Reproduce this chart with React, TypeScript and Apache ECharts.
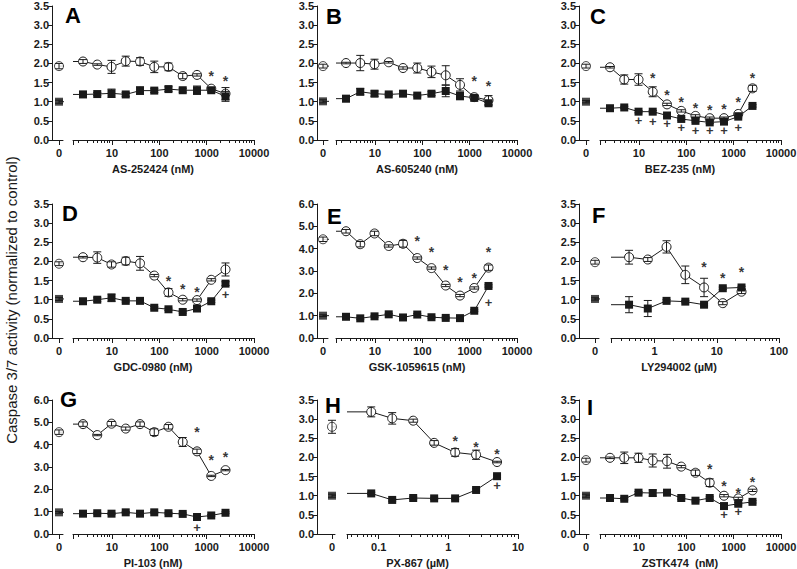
import React, { useEffect, useRef } from "react";
import * as echarts from "echarts";

// ---------- concentrations & axis ticks ----------
const CONC_NM = [2.44, 4.88, 9.77, 19.5, 39.1, 78.1, 156, 312, 625, 1250, 2500];
const CONC_LY = [0.39, 0.78, 1.56, 3.125, 6.25, 12.5, 25];
const CONC_PX = [0.078, 0.156, 0.3125, 0.625, 1.25, 2.5, 5];
const TICKS_NM = [10, 100, 1000, 10000];
const TICKS_LY = [1, 10, 100];
const TICKS_PX = [0.1, 1, 10];
const RANGE_NM = [1.5, 10000];
const RANGE_LY = [0.2, 100];
const RANGE_PX = [0.035, 10];

// ctrl = [open mean, open err, filled mean, filled err] at concentration 0
// ---------- A ----------
const A_NAME = "AS-252424 (nM)";
const A_CTRL = [1.93, 0.07, 1.0, 0.04];
const A_OPEN = [2.05, 1.97, 1.91, 2.06, 2.05, 1.91, 1.91, 1.67, 1.7, 1.34, 1.21];
const A_OPEN_ERR = [0.05, 0.02, 0.17, 0.13, 0.1, 0.15, 0.1, 0.07, 0.03, 0.03, 0.16];
const A_FILLED = [1.19, 1.2, 1.22, 1.19, 1.29, 1.29, 1.33, 1.3, 1.3, 1.3, 1.14];
const A_FILLED_ERR = [0.08, 0.04, 0.11, 0.05, 0.1, 0.05, 0.06, 0.05, 0.11, 0.05, 0.13];
const A_STAR = [[1250, 1.76], [2500, 1.61]];
const A_PLUS: number[][] = [];

// ---------- B ----------
const B_NAME = "AS-605240 (nM)";
const B_CTRL = [1.93, 0.05, 1.01, 0.04];
const B_OPEN = [2.01, 2.01, 1.98, 2.03, 1.88, 1.88, 1.78, 1.69, 1.44, 1.12, 1.04];
const B_OPEN_ERR = [0.02, 0.2, 0.13, 0.02, 0.03, 0.13, 0.15, 0.25, 0.16, 0.03, 0.12];
const B_FILLED = [1.08, 1.26, 1.21, 1.19, 1.21, 1.16, 1.21, 1.28, 1.15, 1.1, 0.96];
const B_FILLED_ERR = [0.08, 0.08, 0.07, 0.03, 0.07, 0.03, 0.05, 0.15, 0.1, 0.05, 0.05];
const B_STAR = [[1250, 1.63], [2500, 1.49]];
const B_PLUS: number[][] = [];

// ---------- C ----------
const C_NAME = "BEZ-235 (nM)";
const C_CTRL = [1.93, 0.05, 1.0, 0.03];
const C_OPEN = [1.9, 1.58, 1.58, 1.26, 0.93, 0.76, 0.63, 0.57, 0.57, 0.68, 1.35];
const C_OPEN_ERR = [0.02, 0.12, 0.15, 0.13, 0.03, 0.03, 0.03, 0.03, 0.03, 0.03, 0.08];
const C_FILLED = [0.83, 0.85, 0.74, 0.74, 0.64, 0.55, 0.5, 0.46, 0.48, 0.61, 0.89];
const C_FILLED_ERR = [0.03, 0.03, 0.03, 0.03, 0.03, 0.03, 0.03, 0.03, 0.03, 0.03, 0.03];
const C_STAR = [[19.5, 1.7], [39.1, 1.26], [78.1, 1.06], [156, 0.91], [312, 0.85], [625, 0.89], [1250, 1.07], [2500, 1.7]];
const C_PLUS = [[9.77, 0.52], [19.5, 0.48], [39.1, 0.44], [78.1, 0.32], [156, 0.26], [312, 0.24], [625, 0.26], [1250, 0.33]];

// ---------- D ----------
const D_NAME = "GDC-0980 (nM)";
const D_CTRL = [1.94, 0.05, 1.02, 0.04];
const D_OPEN = [2.11, 2.1, 1.92, 2.01, 1.95, 1.63, 1.19, 1.0, 0.99, 1.52, 1.79];
const D_OPEN_ERR = [0.02, 0.15, 0.07, 0.1, 0.18, 0.03, 0.1, 0.03, 0.03, 0.03, 0.17];
const D_FILLED = [0.96, 1.0, 1.05, 0.97, 0.97, 0.79, 0.75, 0.68, 0.77, 0.96, 1.42];
const D_FILLED_ERR = [0.07, 0.05, 0.1, 0.03, 0.03, 0.03, 0.03, 0.03, 0.03, 0.03, 0.05];
const D_STAR = [[156, 1.58], [312, 1.36], [625, 1.29]];
const D_PLUS = [[2500, 1.14]];

// ---------- E ----------
const E_NAME = "GSK-1059615 (nM)";
const E_CTRL = [4.42, 0.1, 1.0, 0.04];
const E_OPEN = [4.78, 4.2, 4.68, 4.12, 4.22, 3.58, 3.13, 2.35, 1.9, 2.24, 3.15];
const E_OPEN_ERR = [0.08, 0.12, 0.1, 0.05, 0.15, 0.05, 0.05, 0.05, 0.05, 0.05, 0.12];
const E_FILLED = [0.95, 0.88, 0.97, 1.06, 0.92, 1.05, 0.93, 0.9, 0.89, 1.22, 2.33];
const E_FILLED_ERR = [0.04, 0.04, 0.04, 0.04, 0.04, 0.04, 0.04, 0.04, 0.04, 0.04, 0.05];
const E_STAR = [[78.1, 4.48], [156, 4.0], [312, 3.2], [625, 2.63], [1250, 2.83], [2500, 3.98]];
const E_PLUS = [[2500, 1.58]];

// ---------- F ----------
const F_NAME = "LY294002 (µM)";
const F_CTRL = [1.98, 0.05, 1.02, 0.03];
const F_OPEN = [2.11, 2.05, 2.38, 1.65, 1.32, 0.91, 1.21];
const F_OPEN_ERR = [0.18, 0.05, 0.16, 0.23, 0.24, 0.04, 0.05];
const F_FILLED = [0.87, 0.77, 0.97, 0.95, 0.87, 1.3, 1.32];
const F_FILLED_ERR = [0.21, 0.21, 0.03, 0.03, 0.03, 0.03, 0.03];
const F_STAR = [[6.25, 1.93], [12.5, 1.65], [25, 1.8]];
const F_PLUS: number[][] = [];

// ---------- G ----------
const G_NAME = "PI-103 (nM)";
const G_CTRL = [4.56, 0.1, 0.97, 0.04];
const G_OPEN = [4.92, 4.43, 4.94, 4.72, 4.92, 4.56, 4.8, 4.12, 3.7, 2.6, 2.86];
const G_OPEN_ERR = [0.1, 0.03, 0.1, 0.07, 0.1, 0.15, 0.1, 0.2, 0.1, 0.03, 0.03];
const G_FILLED = [0.91, 0.93, 0.91, 0.97, 0.91, 0.97, 0.93, 0.9, 0.76, 0.83, 0.95];
const G_FILLED_ERR = [0.04, 0.04, 0.04, 0.04, 0.04, 0.04, 0.04, 0.04, 0.04, 0.04, 0.04];
const G_STAR = [[625, 4.68], [1250, 3.45], [2500, 3.6]];
const G_PLUS = [[625, 0.3]];

// ---------- H ----------
const H_NAME = "PX-867 (µM)";
const H_CTRL = [2.8, 0.17, 1.0, 0.04];
const H_OPEN = [3.19, 3.02, 2.96, 2.38, 2.13, 2.07, 1.88];
const H_OPEN_ERR = [0.13, 0.15, 0.04, 0.06, 0.1, 0.12, 0.02];
const H_FILLED = [1.06, 0.89, 0.94, 0.93, 0.93, 1.15, 1.51];
const H_FILLED_ERR = [0.03, 0.03, 0.03, 0.03, 0.03, 0.03, 0.03];
const H_STAR = [[1.25, 2.5], [2.5, 2.35], [5, 2.16]];
const H_PLUS = [[5, 1.26]];

// ---------- I ----------
const I_NAME = "ZSTK474  (nM)";
const I_CTRL = [1.93, 0.05, 1.0, 0.04];
const I_OPEN = [1.99, 1.99, 1.99, 1.92, 1.9, 1.76, 1.6, 1.34, 1.0, 0.93, 1.14];
const I_OPEN_ERR = [0.02, 0.15, 0.12, 0.17, 0.18, 0.03, 0.07, 0.1, 0.03, 0.03, 0.03];
const I_FILLED = [0.94, 0.92, 1.08, 1.07, 1.08, 0.94, 0.87, 0.94, 0.73, 0.79, 0.84];
const I_FILLED_ERR = [0.03, 0.03, 0.03, 0.08, 0.03, 0.03, 0.03, 0.03, 0.05, 0.03, 0.03];
const I_STAR = [[312, 1.78], [625, 1.34], [1250, 1.16], [2500, 1.44]];
const I_PLUS = [[625, 0.51], [1250, 0.6]];

const Y_TITLE = "Caspase 3/7 activity (normalized to control)";

// ---------- panel table ----------
const PANELS = [
  { letter: "A", name: A_NAME, conc: CONC_NM, range: RANGE_NM, ticks: TICKS_NM, yMax: 3.5, yStep: 0.5, ctrl: A_CTRL, open: A_OPEN, openErr: A_OPEN_ERR, filled: A_FILLED, filledErr: A_FILLED_ERR, star: A_STAR, plus: A_PLUS, row: 0, col: 0 },
  { letter: "B", name: B_NAME, conc: CONC_NM, range: RANGE_NM, ticks: TICKS_NM, yMax: 3.5, yStep: 0.5, ctrl: B_CTRL, open: B_OPEN, openErr: B_OPEN_ERR, filled: B_FILLED, filledErr: B_FILLED_ERR, star: B_STAR, plus: B_PLUS, row: 0, col: 1 },
  { letter: "C", name: C_NAME, conc: CONC_NM, range: RANGE_NM, ticks: TICKS_NM, yMax: 3.5, yStep: 0.5, ctrl: C_CTRL, open: C_OPEN, openErr: C_OPEN_ERR, filled: C_FILLED, filledErr: C_FILLED_ERR, star: C_STAR, plus: C_PLUS, row: 0, col: 2 },
  { letter: "D", name: D_NAME, conc: CONC_NM, range: RANGE_NM, ticks: TICKS_NM, yMax: 3.5, yStep: 0.5, ctrl: D_CTRL, open: D_OPEN, openErr: D_OPEN_ERR, filled: D_FILLED, filledErr: D_FILLED_ERR, star: D_STAR, plus: D_PLUS, row: 1, col: 0 },
  { letter: "E", name: E_NAME, conc: CONC_NM, range: RANGE_NM, ticks: TICKS_NM, yMax: 6, yStep: 1, ctrl: E_CTRL, open: E_OPEN, openErr: E_OPEN_ERR, filled: E_FILLED, filledErr: E_FILLED_ERR, star: E_STAR, plus: E_PLUS, row: 1, col: 1 },
  { letter: "F", name: F_NAME, conc: CONC_LY, range: RANGE_LY, ticks: TICKS_LY, yMax: 3.5, yStep: 0.5, ctrl: F_CTRL, open: F_OPEN, openErr: F_OPEN_ERR, filled: F_FILLED, filledErr: F_FILLED_ERR, star: F_STAR, plus: F_PLUS, row: 1, col: 2 },
  { letter: "G", name: G_NAME, conc: CONC_NM, range: RANGE_NM, ticks: TICKS_NM, yMax: 6, yStep: 1, ctrl: G_CTRL, open: G_OPEN, openErr: G_OPEN_ERR, filled: G_FILLED, filledErr: G_FILLED_ERR, star: G_STAR, plus: G_PLUS, row: 2, col: 0 },
  { letter: "H", name: H_NAME, conc: CONC_PX, range: RANGE_PX, ticks: TICKS_PX, yMax: 3.5, yStep: 0.5, ctrl: H_CTRL, open: H_OPEN, openErr: H_OPEN_ERR, filled: H_FILLED, filledErr: H_FILLED_ERR, star: H_STAR, plus: H_PLUS, row: 2, col: 1 },
  { letter: "I", name: I_NAME, conc: CONC_NM, range: RANGE_NM, ticks: TICKS_NM, yMax: 3.5, yStep: 0.5, ctrl: I_CTRL, open: I_OPEN, openErr: I_OPEN_ERR, filled: I_FILLED, filledErr: I_FILLED_ERR, star: I_STAR, plus: I_PLUS, row: 2, col: 2 },
];

// ---------- layout (pixels) ----------
const ROWS = [[6, 140], [204, 338], [400, 534]];
const COLS = [
  { axisX: 52, zeroX: 59, zeroEnd: 63, logStart: 73, logEnd: 254 },
  { axisX: 317, zeroX: 323, zeroEnd: 328, logStart: 336, logEnd: 517 },
  { axisX: 579, zeroX: 586, zeroEnd: 589, logStart: 600, logEnd: 781 },
];
const LAYOUT_OVERRIDE: Record<string, any> = {
  F: { zeroX: 595, zeroEnd: 599, logStart: 611, logEnd: 779 },
  H: { zeroX: 332, zeroEnd: 335, logStart: 347, logEnd: 518 },
};
const LETTER_POS: Record<string, number[]> = {
  A: [65, 7], B: [326, 8], C: [590, 8],
  D: [62, 205], E: [327, 208], F: [592, 207],
  G: [60, 391], H: [325, 397], I: [587, 399],
};

const FONT = '"Liberation Sans", Arial, sans-serif';
const INK = "#1a1a1a";

function minorTicks(min: number, max: number) {
  const out: number[] = [];
  for (let d = Math.floor(Math.log10(min)); d < Math.ceil(Math.log10(max)); d++) {
    for (let k = 2; k <= 9; k++) {
      const v = +(k * Math.pow(10, d)).toPrecision(6);
      if (v > min && v < max) out.push(v);
    }
  }
  return out;
}

const errRender = (_params: any, api: any) => {
  const x = api.value(0);
  const y = api.value(1);
  const e = api.value(2);
  const t = api.coord([x, y + e]);
  const b = api.coord([x, y - e]);
  const cx = t[0];
  const w = 4;
  const st = { stroke: INK, lineWidth: 1, fill: null };
  return {
    type: "group",
    children: [
      { type: "line", shape: { x1: cx, y1: t[1], x2: cx, y2: b[1] }, style: st },
      { type: "line", shape: { x1: cx - w, y1: t[1], x2: cx + w, y2: t[1] }, style: st },
      { type: "line", shape: { x1: cx - w, y1: b[1], x2: cx + w, y2: b[1] }, style: st },
    ],
  };
};

// log-spaced minor ticks under the log axis, snapped to whole pixels
const makeMinorRender = (values: number[]) => (_params: any, api: any) => ({
  type: "group",
  children: values.map((v) => {
    const p = api.coord([v, 0]);
    return {
      type: "rect",
      shape: { x: Math.round(p[0] - 0.5), y: Math.round(p[1]), width: 1, height: 3 },
      style: { fill: INK },
    };
  }),
});

function buildOption() {
  const grid: any[] = [];
  const xAxis: any[] = [];
  const yAxis: any[] = [];
  const series: any[] = [];
  const graphic: any[] = [];
  const lineStyle = { color: INK, width: 1 };
  const axisLine = { show: true, onZero: false, lineStyle };
  const tickLabel = { color: INK, fontFamily: FONT, fontWeight: "bold", fontSize: 11 };
  const openItem = { color: "#fff", borderColor: INK, borderWidth: 1 };
  const filledItem = { color: INK, borderColor: INK, borderWidth: 0 };
  const markLabel = (text: string, size: number, dy: number) => ({
    show: true, position: "inside", formatter: text, color: "#000", fontFamily: FONT,
    fontWeight: "bold", fontSize: size, offset: [0, dy], textBorderWidth: 0,
  });

  PANELS.forEach((p) => {
    const [top, bottom] = ROWS[p.row];
    const L = { ...COLS[p.col], ...(LAYOUT_OVERRIDE[p.letter] || {}) };
    const h = bottom - top;
    const gz = grid.length;
    grid.push({ left: L.axisX, top, width: L.zeroEnd - L.axisX, height: h, containLabel: false, outerBoundsMode: "none" });
    const gl = grid.length;
    grid.push({ left: L.logStart, top, width: L.logEnd - L.logStart, height: h, containLabel: false, outerBoundsMode: "none" });
    const zMin = L.axisX - L.zeroX;
    const zMax = L.zeroEnd - L.zeroX;

    const xz = xAxis.length;
    xAxis.push({
      type: "value", gridIndex: gz, min: zMin, max: zMax, position: "bottom",
      axisLine,
      axisTick: { show: true, customValues: [0], length: 5, lineStyle },
      axisLabel: { show: true, customValues: [0], formatter: () => "0", margin: 7, ...tickLabel },
      splitLine: { show: false },
    });
    const xl = xAxis.length;
    xAxis.push({
      type: "log", logBase: 10, gridIndex: gl, min: p.range[0], max: p.range[1], position: "bottom",
      axisLine,
      axisTick: { show: true, customValues: [p.range[0], ...p.ticks], length: 5, lineStyle },
      axisLabel: { show: true, customValues: p.ticks, formatter: (v: number) => String(v), margin: 7, ...tickLabel },
      splitLine: { show: false },
    });
    const yz = yAxis.length;
    yAxis.push({
      type: "value", gridIndex: gz, min: 0, max: p.yMax, interval: p.yStep, position: "left",
      axisLine,
      axisTick: { show: true, length: 4, lineStyle },
      axisLabel: { show: true, formatter: (v: number) => v.toFixed(1), margin: 3, ...tickLabel },
      splitLine: { show: false },
    });
    const yl = yAxis.length;
    yAxis.push({ type: "value", gridIndex: gl, min: 0, max: p.yMax, show: false, splitLine: { show: false } });

    // minor ticks of the log axis
    series.push({
      type: "custom", xAxisIndex: xl, yAxisIndex: yl,
      data: [[p.range[0], 0]],
      renderItem: makeMinorRender(minorTicks(p.range[0], p.range[1])), clip: false, silent: true, z: 6,
    });
    // lead-in lines from the axis break to the first concentration
    series.push({ type: "line", xAxisIndex: xl, yAxisIndex: yl, data: [[p.range[0], p.open[0]], [p.conc[0], p.open[0]]], symbol: "none", lineStyle, z: 2, silent: true });
    series.push({ type: "line", xAxisIndex: xl, yAxisIndex: yl, data: [[p.range[0], p.filled[0]], [p.conc[0], p.filled[0]]], symbol: "none", lineStyle, z: 2, silent: true });
    // main curves
    series.push({ type: "line", xAxisIndex: xl, yAxisIndex: yl, data: p.conc.map((c, i) => [c, p.open[i]]), symbol: "circle", symbolSize: 9, showAllSymbol: true, itemStyle: openItem, lineStyle, z: 3 });
    series.push({ type: "line", xAxisIndex: xl, yAxisIndex: yl, data: p.conc.map((c, i) => [c, p.filled[i]]), symbol: "rect", symbolSize: 8, showAllSymbol: true, itemStyle: filledItem, lineStyle, z: 3 });
    // control (0) stubs and markers
    series.push({ type: "line", xAxisIndex: xz, yAxisIndex: yz, data: [[0, p.ctrl[0]], [zMax + 3, p.ctrl[0]]], symbol: "none", clip: false, lineStyle, z: 2, silent: true });
    series.push({ type: "line", xAxisIndex: xz, yAxisIndex: yz, data: [[0, p.ctrl[2]], [zMax + 3, p.ctrl[2]]], symbol: "none", clip: false, lineStyle, z: 2, silent: true });
    series.push({ type: "scatter", xAxisIndex: xz, yAxisIndex: yz, data: [[0, p.ctrl[0]]], symbol: "circle", symbolSize: 9, itemStyle: openItem, z: 3, clip: false });
    series.push({ type: "scatter", xAxisIndex: xz, yAxisIndex: yz, data: [[0, p.ctrl[2]]], symbol: "rect", symbolSize: 8, itemStyle: filledItem, z: 3, clip: false });
    // error bars
    const errRows = [
      ...p.conc.map((c, i) => [c, p.open[i], p.openErr[i]]),
      ...p.conc.map((c, i) => [c, p.filled[i], p.filledErr[i]]),
    ];
    series.push({ type: "custom", xAxisIndex: xl, yAxisIndex: yl, data: errRows, renderItem: errRender, z: 4, silent: true, itemStyle: { color: INK } });
    series.push({ type: "custom", xAxisIndex: xz, yAxisIndex: yz, data: [[0, p.ctrl[0], p.ctrl[1]], [0, p.ctrl[2], p.ctrl[3]]], renderItem: errRender, z: 4, clip: false, silent: true, itemStyle: { color: INK } });
    // significance marks: * vs treated, + vs control
    if (p.star.length) {
      series.push({
        type: "scatter", xAxisIndex: xl, yAxisIndex: yl, data: p.star, symbol: "circle", symbolSize: 1,
        itemStyle: { color: "rgba(0,0,0,0)" }, label: markLabel("*", 14, 3), z: 5, clip: false, silent: true,
      });
    }
    if (p.plus.length) {
      series.push({
        type: "scatter", xAxisIndex: xl, yAxisIndex: yl, data: p.plus, symbol: "circle", symbolSize: 1,
        itemStyle: { color: "rgba(0,0,0,0)" }, label: markLabel("+", 13, 0), z: 5, clip: false, silent: true,
      });
    }

    // panel letter and axis name
    const lp = LETTER_POS[p.letter];
    graphic.push({
      type: "text", x: lp[0], y: lp[1] - 3, silent: true,
      style: { text: p.letter, fill: "#000", font: `bold 22px ${FONT}`, textAlign: "left", textVerticalAlign: "top" },
    });
    graphic.push({
      type: "text", x: (L.axisX + L.logEnd) / 2, y: bottom + 29, silent: true,
      style: { text: p.name, fill: INK, font: `bold 11px ${FONT}`, textAlign: "center", textVerticalAlign: "middle" },
    });
  });

  graphic.push({
    type: "text", x: 11, y: 300, rotation: Math.PI / 2, silent: true,
    style: { text: Y_TITLE, fill: INK, font: `15px ${FONT}`, textAlign: "center", textVerticalAlign: "middle" },
  });

  return {
    animation: false,
    backgroundColor: "#fff",
    color: [INK],
    textStyle: { fontFamily: FONT },
    grid,
    xAxis,
    yAxis,
    series,
    graphic,
  };
}

export default function App() {
  const ref = useRef<HTMLDivElement>(null);
  useEffect(() => {
    if (!ref.current) return;
    const chart = echarts.init(ref.current, null, { renderer: "svg" });
    chart.setOption(buildOption() as any);
    return () => chart.dispose();
  }, []);
  return (
    <div
      ref={ref}
      style={{ position: "fixed", left: 0, top: 0, width: 797, height: 569, background: "#fff" }}
    />
  );
}
